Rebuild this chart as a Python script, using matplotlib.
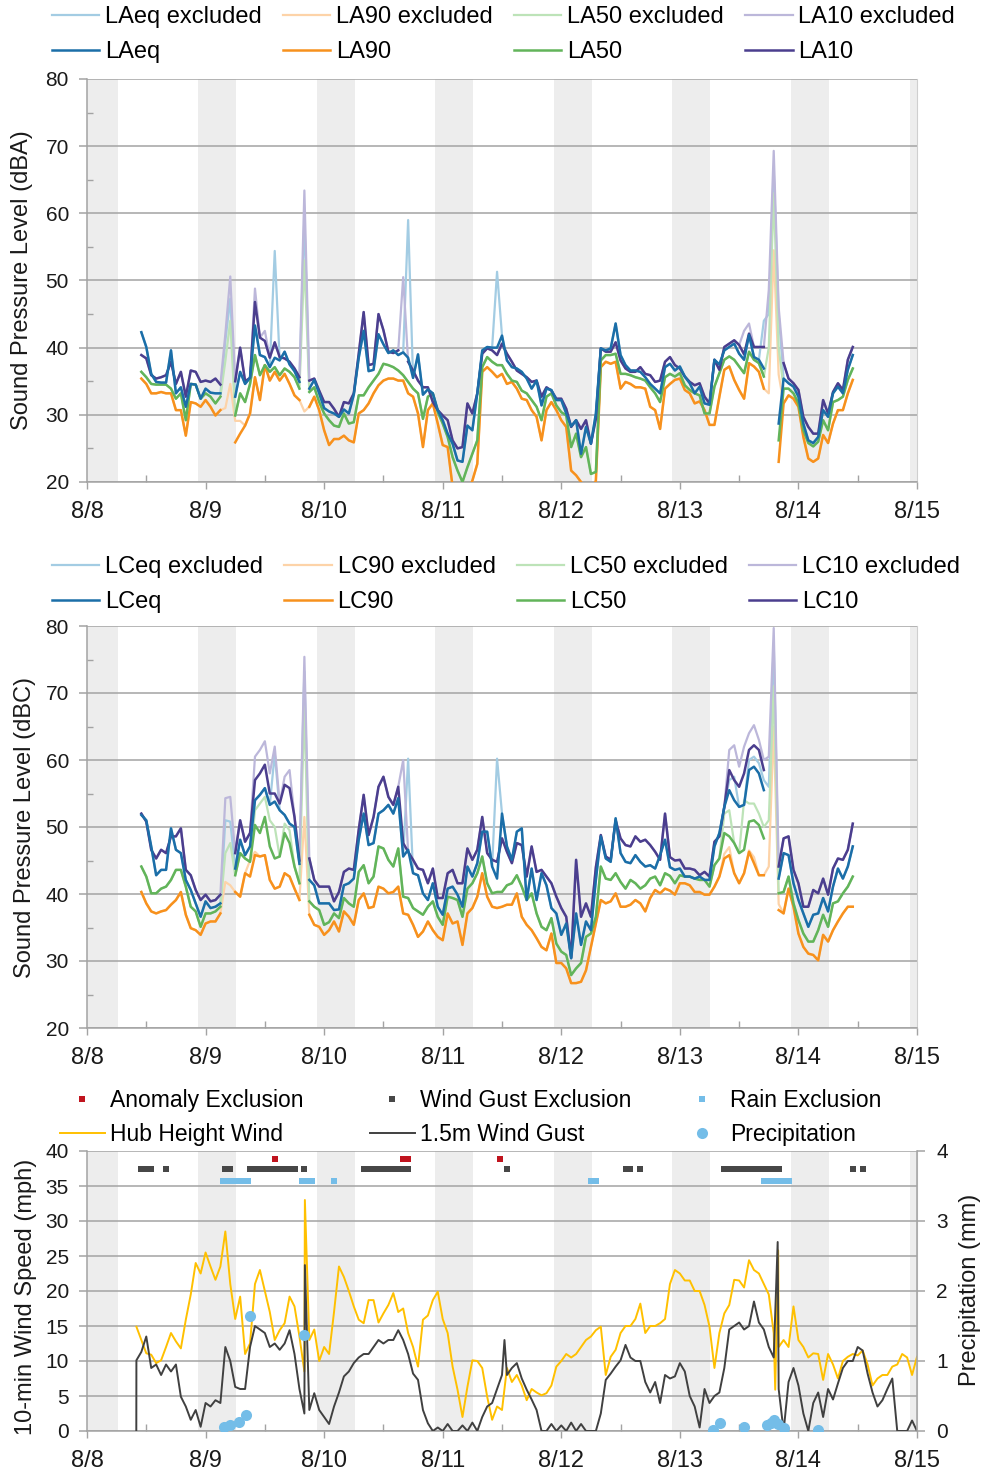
import numpy as np
import matplotlib
matplotlib.use("Agg")
import matplotlib.pyplot as plt
from matplotlib.lines import Line2D

nan = np.nan
plt.rcParams['font.family'] = ['Liberation Sans', 'DejaVu Sans']

# ---------------- data ----------------
day_labels = ['8/8', '8/9', '8/10', '8/11', '8/12', '8/13', '8/14', '8/15']
night_start_hour = 22.5   # grey night bands (hour of day)
night_end_hour = 6.2

sound_hours = np.arange(11, 156)   # hours since 8/8 00:00, hourly

LAeq = [42.3, 40.1, 36.1, 34.9, 34.8, 34.8, 39.6, 33.2, 34.1, 31.2, 34.6, 34.5,
        32.4, 33.9, 33.3, 33.2, 33.2, nan, nan, 32.7, 36.4, 34.6, 35.5, 43.3,
        38.9, 38.6, 37.1, 38.5, 38.1, 39.4, 37.5, 36.5, 34.9, nan, 33.9, 35.2,
        33.2, 31.0, 30.5, 30.2, 29.7, 30.8, 30.2, 33.0, 38.5, 42.5, 36.5, 36.7,
        42.0, 40.5, 39.2, 39.6, 38.9, 39.3, 38.5, 35.5, 39.0, 33.0, 33.8, 33.2,
        30.7, 29.2, 27.2, 25.7, 23.2, 23.0, 28.4, 27.7, 33.2, 39.6, 40.1, 40.0,
        40.0, 41.8, 38.1, 37.1, 36.9, 36.4, 35.4, 33.9, 35.1, 31.4, 33.9, 33.7,
        32.2, 32.2, 30.2, 28.3, 29.2, 24.2, 28.2, 25.7, 30.2, 39.9, 39.6, 39.9,
        43.6, 38.9, 37.4, 36.6, 36.6, 36.4, 35.6, 34.6, 33.9, 33.2, 37.1, 37.6,
        36.6, 37.2, 35.7, 34.7, 33.2, 34.2, 31.7, 31.5, 38.2, 37.5, 39.6, 40.1,
        40.6, 39.1, 38.2, 41.9, 38.6, 38.2, 36.9, nan, nan, 28.7, 35.4, 34.7,
        34.2, 32.7, 28.7, 26.2, 25.8, 26.7, 30.7, 29.7, 33.2, 34.2, 33.2, 36.7, 38.9]
LA10 = [38.9, 38.4, 35.9, 35.4, 35.6, 35.9, 37.9, 34.6, 36.4, 32.7, 36.6, 36.4,
        34.9, 35.1, 34.9, 35.4, 34.5, nan, nan, 35.0, 40.0, 35.0, 35.5, 46.8,
        41.5, 41.0, 38.5, 40.8, 38.6, 38.4, 37.9, 36.9, 35.6, nan, 35.1, 35.4,
        33.6, 31.9, 31.9, 30.9, 29.7, 31.9, 31.7, 33.2, 39.1, 45.3, 37.4, 37.6,
        45.0, 42.6, 39.4, 39.2, 39.6, nan, 37.9, 36.6, 35.1, 34.1, 34.1, 31.9,
        30.7, 29.9, 29.2, 26.2, 25.0, 25.2, 31.7, 30.2, 33.2, 39.1, 39.9, 39.6,
        38.9, 40.6, 39.1, 37.9, 36.6, 36.1, 35.6, 34.9, 35.1, 32.7, 34.1, 33.6,
        32.4, 32.4, 30.9, 28.2, 29.2, 27.9, 29.2, 25.7, 29.4, 39.9, 39.4, 39.4,
        40.8, 38.1, 36.9, 36.4, 36.4, 37.1, 36.1, 35.9, 34.9, 35.1, 37.9, 38.6,
        37.4, 36.9, 35.7, 34.9, 34.4, 34.7, 32.7, 31.7, 38.2, 36.7, 40.1, 40.6,
        41.1, 40.4, 39.0, 42.1, 40.1, 40.1, 40.1, nan, nan, nan, 37.7, 35.4,
        34.7, 33.7, 29.7, 28.2, 27.2, 27.2, 32.2, 30.2, 33.4, 34.7, 33.7, 38.2, 40.1]
LA50 = [36.4, 35.6, 34.6, 34.5, 34.5, 34.5, 33.9, 32.4, 33.2, 29.2, 34.6, 34.5,
        32.4, 33.2, 32.7, 31.7, 32.7, nan, nan, 29.9, 33.2, 31.9, 34.6, 38.9,
        35.9, 37.4, 36.4, 37.1, 35.9, 36.9, 36.4, 35.6, 33.9, nan, 33.4, 34.1,
        31.9, 30.2, 29.2, 28.4, 28.2, 30.2, 28.7, 28.9, 32.9, 32.9, 34.1, 35.1,
        36.1, 37.6, 37.4, 37.1, 36.6, 35.9, 34.9, 33.9, 33.2, 29.4, 32.7, 33.2,
        30.4, 28.7, 26.7, 23.7, 21.7, 20.0, 22.2, 24.2, 26.2, 37.1, 38.6, 37.9,
        37.4, 37.4, 36.1, 35.1, 34.9, 33.6, 33.2, 32.2, 31.2, 29.2, 32.7, 33.2,
        31.4, 30.4, 29.9, 25.2, 27.2, 23.7, 25.2, 21.2, 21.5, 38.1, 38.9, 38.9,
        39.1, 36.1, 36.1, 35.9, 35.6, 35.4, 35.1, 34.1, 33.2, 31.9, 35.6, 36.1,
        35.7, 36.2, 34.4, 33.7, 33.2, 32.9, 30.2, 30.2, 34.2, 36.2, 38.2, 38.7,
        38.2, 37.2, 36.2, 39.4, 38.2, 37.7, 35.7, nan, nan, 26.2, 33.9, 33.9,
        33.2, 31.7, 27.7, 25.8, 25.3, 26.0, 29.2, 27.7, 31.9, 32.2, 32.7, 35.2, 36.9]
LA90 = [35.4, 34.6, 33.2, 33.2, 33.4, 33.2, 33.2, 30.7, 30.7, 26.9, 31.9, 31.7,
        31.2, 32.2, 31.2, 29.9, 30.7, nan, nan, 25.9, 27.2, 28.4, 30.2, 35.6,
        32.2, 37.4, 35.1, 36.4, 35.1, 36.1, 34.6, 32.9, 32.2, nan, 31.2, 32.7,
        30.7, 27.7, 25.5, 26.4, 26.4, 26.9, 26.2, 25.9, 30.2, 30.7, 31.7, 33.2,
        34.4, 35.1, 35.4, 35.4, 35.1, 35.1, 33.2, 32.7, 30.2, 25.2, 30.7, 31.7,
        28.7, 25.5, 25.2, 19.3, 17.8, 17.5, 18.5, 20.2, 22.7, 36.4, 37.1, 36.4,
        35.6, 36.1, 34.6, 34.9, 33.9, 32.4, 32.2, 30.7, 29.7, 26.2, 30.7, 31.9,
        30.7, 29.2, 28.2, 21.7, 21.0, 20.0, 19.0, 18.5, 20.2, 37.1, 37.9, 37.6,
        37.9, 33.9, 34.9, 34.6, 34.1, 34.1, 33.9, 31.2, 30.7, 27.9, 33.9, 34.6,
        35.2, 35.4, 33.7, 33.2, 31.7, 32.0, 30.7, 28.5, 28.5, 32.7, 36.7, 37.2,
        35.2, 33.7, 32.4, 37.7, 37.2, 36.4, 33.9, nan, nan, 23.0, 31.7, 32.9,
        32.4, 31.2, 26.7, 23.5, 23.0, 23.5, 27.0, 25.8, 28.7, 30.7, 30.7, 33.2, 35.2]

# values including excluded periods (where they differ from the kept values)
LAeq_excl = {28: 41.0, 29: 47.3, 38: 54.4, 44: 59.5, 65: 59.0, 83: 51.3,
             137: 44.0, 138: 45.0, 139: 66.4, 140: 45.0}
LA10_excl = {28: 42.0, 29: 50.6, 34: 48.8, 36: 42.5, 44: 63.4, 64: 50.5,
             133: 42.5, 134: 43.6, 138: 48.6, 139: 69.3, 140: 46.0}
LA50_excl = {28: 38.0, 29: 44.0, 44: 53.0, 138: 40.0, 139: 63.0, 140: 40.0}
LA90_excl = {28: 31.0, 29: 34.6, 30: 29.1, 31: 29.1, 44: 30.5, 138: 33.2,
             139: 54.5, 140: 36.0}

LCeq = [51.8, 51.0, 47.1, 42.8, 43.6, 43.6, 49.8, 46.6, 46.1, 42.1, 40.6, 38.6,
        36.6, 38.9, 37.9, 38.1, 38.6, nan, nan, 43.8, 48.1, 45.8, 47.1, 54.0,
        54.8, 55.8, 53.3, 53.8, 52.5, 51.8, 50.5, 50.0, 44.5, nan, 42.1, 41.3,
        38.6, 38.6, 38.6, 37.6, 37.7, 41.3, 41.6, 42.3, 48.1, 52.0, 47.3, 47.6,
        52.0, 52.5, 53.3, 52.0, 54.3, 45.6, 46.6, 43.1, 42.8, 40.1, 39.1, 41.6,
        38.1, 36.9, 40.8, 41.1, 39.9, 38.1, 44.1, 42.6, 44.6, 49.3, 49.3, 44.1,
        42.3, 52.0, 47.1, 45.1, 49.3, 49.8, 39.1, 43.8, 39.1, 43.1, 41.3, 37.9,
        37.1, 33.9, 35.6, 30.4, 37.1, 32.4, 35.9, 34.6, 42.1, 48.6, 45.3, 44.8,
        51.3, 46.1, 44.8, 44.6, 45.8, 44.8, 44.1, 44.3, 43.8, 45.8, 48.1, 44.0,
        43.6, 43.8, 42.6, 42.6, 42.3, 42.6, 42.1, 42.1, 47.1, 49.1, 53.0, 55.5,
        54.0, 53.0, 53.3, 58.5, 59.0, 58.0, 55.5, nan, nan, 42.3, 46.1, 45.8,
        41.6, 39.1, 37.1, 35.1, 36.9, 37.1, 39.4, 37.4, 41.1, 43.8, 42.3, 44.1, 47.1]
LC10 = [52.0, 50.8, 46.6, 45.3, 46.6, 46.1, 48.6, 48.6, 49.8, 43.6, 42.8, 40.6,
        39.1, 39.9, 38.9, 39.1, 39.9, nan, nan, 46.1, 51.0, 47.8, 49.1, 57.0,
        58.0, 59.3, 55.0, 55.0, 53.5, 56.3, 55.8, 51.5, 45.0, nan, 45.3, 42.1,
        41.1, 41.1, 41.1, 38.9, 40.3, 43.3, 43.8, 43.6, 49.6, 54.8, 48.8, 51.5,
        56.0, 57.5, 54.5, 53.3, 56.0, 47.6, 46.3, 45.1, 43.8, 43.6, 41.6, 43.8,
        39.4, 39.4, 43.1, 43.6, 41.6, 41.6, 46.8, 45.1, 46.6, 51.5, 46.1, 45.1,
        44.8, 48.3, 46.3, 44.6, 47.6, 47.3, 42.6, 47.1, 43.3, 43.6, 42.6, 41.6,
        39.6, 37.9, 36.6, 30.5, 45.1, 36.6, 38.6, 36.6, 44.0, 48.8, 45.6, 45.1,
        51.0, 48.3, 47.3, 47.1, 48.6, 47.8, 48.1, 47.3, 46.3, 45.1, 52.0, 45.5,
        45.0, 45.1, 43.8, 43.8, 43.6, 42.8, 43.3, 42.6, 47.8, 48.6, 53.0, 58.5,
        57.0, 56.0, 58.0, 61.5, 62.2, 61.5, 58.5, nan, nan, 44.1, 48.3, 48.6,
        43.6, 41.6, 38.1, 38.1, 40.6, 40.1, 42.3, 39.9, 43.8, 45.3, 45.1, 46.6, 50.5]
LC50 = [44.1, 42.6, 40.1, 40.1, 40.8, 41.1, 42.1, 43.6, 43.6, 41.1, 38.1, 37.4,
        35.1, 37.1, 37.1, 37.4, 38.1, nan, nan, 42.8, 46.1, 45.3, 44.8, 50.3,
        49.1, 51.5, 47.1, 45.3, 45.6, 49.1, 47.6, 44.1, 41.6, nan, 38.9, 38.1,
        37.6, 35.4, 35.8, 37.1, 36.4, 39.4, 38.6, 38.1, 43.3, 44.3, 41.6, 42.6,
        47.1, 46.8, 45.1, 44.1, 46.8, 39.6, 39.4, 37.9, 37.4, 36.9, 38.1, 38.9,
        36.6, 35.4, 39.6, 39.4, 39.1, 36.6, 40.8, 41.6, 43.1, 45.6, 41.6, 40.1,
        40.3, 40.3, 41.3, 41.6, 42.8, 41.1, 39.1, 40.1, 37.1, 35.1, 34.6, 36.4,
        32.6, 31.4, 30.9, 27.9, 28.9, 29.7, 33.6, 34.1, 36.6, 44.1, 42.3, 42.1,
        43.1, 41.8, 40.8, 42.1, 41.6, 40.8, 41.3, 42.3, 42.6, 41.3, 43.1, 42.7,
        41.6, 42.8, 42.6, 42.6, 42.3, 42.1, 42.1, 41.1, 44.3, 45.3, 49.1, 48.6,
        47.6, 46.1, 46.6, 50.8, 51.0, 50.3, 48.3, nan, nan, 40.1, 40.3, 42.6,
        38.6, 36.1, 34.1, 32.9, 32.9, 34.6, 36.9, 35.1, 38.6, 38.9, 40.1, 41.1, 42.6]
LC90 = [40.3, 38.6, 37.4, 37.1, 37.4, 37.6, 38.4, 39.1, 40.3, 36.9, 34.9, 34.6,
        33.9, 35.6, 35.9, 35.9, 37.1, nan, nan, 40.3, 39.6, 43.1, 42.6, 45.8,
        45.6, 45.8, 42.1, 40.8, 41.1, 43.1, 42.6, 40.8, 39.1, nan, 36.9, 35.4,
        35.1, 33.9, 34.6, 35.9, 34.4, 37.4, 36.6, 35.4, 39.1, 40.1, 37.9, 38.1,
        41.1, 40.8, 40.1, 40.3, 41.1, 37.1, 36.9, 35.4, 33.6, 34.4, 35.9, 34.6,
        33.6, 33.1, 37.1, 35.6, 35.9, 32.4, 37.1, 37.9, 39.6, 43.1, 39.6, 38.1,
        37.9, 38.1, 38.4, 38.4, 40.1, 36.6, 35.4, 34.6, 33.4, 32.1, 31.6, 34.1,
        29.7, 29.7, 28.9, 26.7, 26.7, 26.9, 28.6, 32.1, 35.6, 39.1, 38.6, 38.9,
        40.1, 38.1, 38.1, 38.4, 39.1, 38.6, 37.4, 39.4, 40.6, 40.1, 40.8, 40.5,
        39.9, 41.6, 41.6, 41.3, 40.3, 40.3, 39.9, 39.9, 41.1, 42.6, 45.3, 45.8,
        43.1, 41.6, 43.1, 46.3, 44.6, 42.8, 42.8, nan, nan, 37.6, 37.1, 40.8,
        38.1, 34.1, 32.1, 31.1, 30.9, 30.1, 33.9, 32.9, 34.6, 35.9, 37.1, 38.1, 38.1]

LCeq_excl = {28: 51.0, 29: 50.8, 38: 61.0, 44: 73.2, 65: 60.2, 83: 60.2,
             130: 57.0, 131: 57.5, 134: 60.0, 135: 60.5, 136: 59.5, 137: 57.0,
             138: 56.0, 139: 77.4}
LC10_excl = {28: 54.3, 29: 54.5, 34: 60.5, 35: 61.5, 36: 62.8, 37: 58.0, 38: 62.0,
             40: 57.5, 41: 58.5, 44: 75.4, 64: 60.0, 130: 61.5, 131: 62.2,
             132: 59.0, 133: 62.0, 134: 64.0, 135: 65.2, 136: 63.0, 137: 60.0,
             138: 60.5, 139: 79.7}
LC50_excl = {28: 46.1, 29: 47.6, 34: 52.5, 35: 53.5, 36: 54.5, 37: 51.0, 38: 50.0,
             40: 50.5, 41: 49.5, 44: 68.0, 129: 52.0, 130: 52.5, 133: 54.0,
             134: 53.5, 135: 53.5, 136: 52.0, 137: 50.0, 138: 51.0, 139: 71.0}
LC90_excl = {28: 41.8, 29: 41.3, 33: 45.0, 34: 46.3, 44: 51.5, 129: 46.0, 130: 47.0,
             134: 46.5, 135: 45.5, 138: 44.1, 139: 65.0, 140: 38.5}

# wind (hourly, hours since 8/8 00:00)
wind_hours = np.arange(10, 169)
hub_wind = [14.9, 13.0, 11.1, 10.9, 9.7, 10.1, 12.0, 14.0, 12.8, 11.8, 15.9, 19.5,
            24.0, 22.5, 25.5, 23.5, 21.6, 23.5, 28.5, 21.0, 16.0, 19.2, 11.0, 12.5,
            21.0, 23.0, 20.0, 17.0, 13.0, 14.4, 15.4, 19.2, 17.8, 13.5, 8.5, 13.0,
            14.5, 10.0, 12.0, 11.0, 17.0, 23.5, 22.0, 20.0, 17.8, 15.9, 15.4, 18.7,
            18.7, 15.5, 16.8, 18.0, 19.7, 17.0, 17.5, 14.0, 12.0, 9.2, 15.9, 16.5,
            18.7, 19.9, 16.0, 14.0, 9.2, 5.9, 2.0, 6.3, 10.1, 10.0, 9.0, 4.9,
            1.6, 3.5, 3.0, 9.0, 7.0, 8.0, 6.5, 4.4, 6.0, 5.5, 5.1, 5.4,
            6.5, 9.2, 10.0, 11.0, 10.5, 11.0, 12.0, 13.0, 13.5, 14.4, 14.9, 8.0,
            10.6, 11.6, 14.0, 15.0, 15.0, 16.0, 18.2, 14.0, 15.0, 15.0, 15.4, 16.0,
            21.0, 23.0, 22.5, 21.5, 21.5, 20.0, 20.0, 18.0, 14.9, 9.0, 14.0, 16.8,
            18.0, 21.6, 21.5, 20.5, 24.4, 23.0, 22.5, 21.0, 19.5, 14.0, 12.0, 13.0,
            12.0, 17.8, 13.0, 12.0, 10.5, 11.1, 11.0, 7.3, 11.0, 9.5, 7.5, 10.0,
            10.6, 11.0, 10.8, 11.5, 9.5, 6.5, 7.5, 8.0, 8.0, 9.2, 9.5, 11.0,
            10.5, 8.0, 10.6]
gust_wind = [10.1, 11.3, 13.5, 9.0, 9.5, 8.0, 9.5, 8.5, 9.5, 4.9, 3.5, 1.6,
             3.0, 0.6, 4.0, 3.5, 4.4, 4.0, 12.0, 10.0, 6.3, 6.0, 6.0, 12.0,
             15.0, 14.5, 14.0, 12.0, 12.5, 11.6, 12.5, 14.4, 11.0, 6.0, 2.5, 3.0,
             5.4, 3.0, 2.0, 1.0, 3.5, 5.5, 7.8, 8.5, 9.7, 10.5, 11.0, 11.0,
             12.0, 13.0, 12.5, 13.0, 13.0, 14.4, 13.0, 11.0, 8.2, 7.3, 3.0, 1.1,
             0.0, 0.5, 0.0, 1.0, 0.0, 0.0, 0.8, 0.0, 1.2, 0.0, 2.0, 3.5,
             4.0, 6.0, 8.0, 8.0, 9.0, 9.7, 7.5, 5.9, 4.5, 3.0, 0.0, 0.0,
             1.0, 0.0, 0.8, 0.0, 1.2, 0.0, 1.0, 0.0, 0.0, 0.0, 2.5, 7.3,
             8.2, 9.2, 10.1, 12.3, 10.5, 10.0, 10.0, 7.0, 5.5, 7.0, 4.0, 8.0,
             7.5, 7.8, 9.7, 8.5, 5.0, 3.5, 0.5, 6.0, 4.0, 5.0, 5.5, 9.0,
             14.5, 15.0, 15.5, 14.5, 15.0, 18.5, 15.5, 14.5, 12.0, 10.5, 6.0, 0.0,
             7.0, 9.0, 6.5, 2.5, 0.0, 4.0, 5.5, 2.0, 6.0, 4.5, 6.8, 9.0,
             10.0, 10.0, 12.0, 11.5, 8.2, 5.5, 3.5, 4.4, 6.0, 7.5, 0.0, 0.0,
             0.0, 1.5, 0.0]
# short 10-min peaks between the hourly values
hub_peak_hours = [44.1, 139.3, 139.9]
hub_peak_vals = [33.0, 5.9, 25.8]
gust_peak_hours = [9.98, 44.1, 84.5, 139.8]
gust_peak_vals = [0.0, 23.7, 13.0, 27.0]

precip_hours = [27.7, 28.9, 30.8, 32.1, 33.0, 43.9, 126.7, 128.1, 133.0,
                137.6, 138.5, 139.1, 139.8, 141.0, 148.0]
precip_mm = [0.06, 0.08, 0.13, 0.23, 1.65, 1.37, 0.01, 0.11, 0.06,
             0.08, 0.12, 0.16, 0.10, 0.05, 0.01]

anomaly_excl_hours = [38, 64, 65, 83.5]
gust_excl_hours = [11, 12, 13, 16, 28, 29, 33, 34, 35, 36, 37, 38, 39, 40, 41, 42, 44,
                   56, 57, 58, 59, 60, 61, 62, 63, 64, 65, 85, 109, 110, 112,
                   129, 130, 131, 132, 133, 134, 135, 136, 137, 138, 139, 140, 155, 157]
rain_excl_hours = [27.5, 28.5, 29.5, 30.5, 31.5, 32.5, 43.5, 44.5, 45.5, 50,
                   102, 103, 137, 138, 139, 140, 141, 142]

# ---------------- styling ----------------
C_EQ, C_90, C_50, C_10 = '#1b6ea8', '#f7911d', '#62b45a', '#4b3e8e'
X_EQ, X_90, X_50, X_10 = '#a3cce3', '#fdd3a8', '#bde3b8', '#bcb7da'
BAND = '#ededed'
GRID = '#a3a3a3'
TXT = '#1a1a1a'

W, H = 986, 1473
fig = plt.figure(figsize=(W / 100, H / 100), dpi=100)


def fx(px):
    return px / W


def fy(py):
    return 1 - py / H


def axes_rect(top, bottom):
    return [fx(87), fy(bottom), fx(917) - fx(87), (bottom - top) / H]


def style_time_axis(ax, ymin, ymax, ystep, minor_y=True):
    ax.set_xlim(0, 168)
    ax.set_ylim(ymin, ymax)
    for d in range(8):
        ax.axvspan(24 * d - 24 + night_start_hour, 24 * d + night_end_hour,
                   color=BAND, lw=0, zorder=0.2)
    ax.set_xticks(np.arange(0, 169, 24))
    ax.set_xticklabels(day_labels)
    ax.set_xticks(np.arange(12, 168, 24), minor=True)
    ax.set_yticks(np.arange(ymin, ymax + 0.01, ystep))
    if minor_y:
        ax.set_yticks(np.arange(ymin + ystep / 2, ymax, ystep), minor=True)
    ax.grid(axis='y', color=GRID, lw=1.1)
    ax.set_axisbelow(True)
    ax.tick_params(axis='x', which='major', direction='out', length=5, width=1,
                   color=GRID, labelsize=17, pad=9, labelcolor=TXT)
    ax.tick_params(axis='x', which='minor', direction='in', length=5, width=1, color=GRID)
    ax.tick_params(axis='y', which='major', direction='out', length=6, width=1.1,
                   color=GRID, labelsize=15, pad=7, labelcolor=TXT)
    ax.tick_params(axis='y', which='minor', direction='in', length=4, width=1, color=GRID)
    for s in ['left', 'bottom']:
        ax.spines[s].set_color(GRID)
        ax.spines[s].set_linewidth(1.1)
    ax.spines['top'].set_visible(False)
    ax.spines['right'].set_color('#cfcfcf')


def with_excl(base, extra):
    arr = np.array(base, dtype=float)
    for h, v in extra.items():
        arr[h - sound_hours[0]] = v
    return arr


def sound_panel(ax, names, series, excl, main_cols, excl_cols):
    handles = []
    ex_lines, main_lines = [], []
    for nm, s, e, cm, cx in zip(names, series, excl, main_cols, excl_cols):
        lx, = ax.plot(sound_hours, with_excl(s, e), color=cx, lw=1.6,
                      label=nm + ' excluded', zorder=2)
        ex_lines.append(lx)
    # draw order of kept data: L90, L50, L10, Leq on top
    for idx in [1, 2, 3, 0]:
        lm, = ax.plot(sound_hours, np.array(series[idx], dtype=float), color=main_cols[idx],
                      lw=1.8, label=names[idx], zorder=3)
        main_lines.append((idx, lm))
    main_sorted = [l for _, l in sorted(main_lines, key=lambda t: t[0])]
    for lx, lm in zip(ex_lines, main_sorted):
        handles += [lx, lm]
    return handles


LEG_KW = dict(frameon=False, fontsize=17, handlelength=2.0, handletextpad=0.25,
              columnspacing=0.9, labelspacing=0.55, borderpad=0, borderaxespad=0)

# ---- top panel (dBA)
ax1 = fig.add_axes(axes_rect(79, 482))
style_time_axis(ax1, 20, 80, 10)
h1 = sound_panel(ax1, ['LAeq', 'LA90', 'LA50', 'LA10'],
                 [LAeq, LA90, LA50, LA10],
                 [LAeq_excl, LA90_excl, LA50_excl, LA10_excl],
                 [C_EQ, C_90, C_50, C_10], [X_EQ, X_90, X_50, X_10])
fig.legend(handles=h1, labels=[h.get_label() for h in h1], ncol=4,
           loc='upper left', bbox_to_anchor=(fx(52), fy(6)), **LEG_KW)
fig.text(fx(22), fy(280), 'Sound Pressure Level (dBA)', rotation=90, ha='center',
         va='center', fontsize=17, color=TXT)

# ---- middle panel (dBC)
ax2 = fig.add_axes(axes_rect(626, 1028))
style_time_axis(ax2, 20, 80, 10)
h2 = sound_panel(ax2, ['LCeq', 'LC90', 'LC50', 'LC10'],
                 [LCeq, LC90, LC50, LC10],
                 [LCeq_excl, LC90_excl, LC50_excl, LC10_excl],
                 [C_EQ, C_90, C_50, C_10], [X_EQ, X_90, X_50, X_10])
fig.legend(handles=h2, labels=[h.get_label() for h in h2], ncol=4,
           loc='upper left', bbox_to_anchor=(fx(52), fy(556)), **LEG_KW)
fig.text(fx(25), fy(827), 'Sound Pressure Level (dBC)', rotation=90, ha='center',
         va='center', fontsize=17, color=TXT)

# ---- bottom panel (wind)
ax3 = fig.add_axes(axes_rect(1151, 1431))
style_time_axis(ax3, 0, 40, 5, minor_y=False)


def merged(hours, vals, ph, pv):
    h = np.concatenate([np.asarray(hours, float), np.asarray(ph, float)])
    v = np.concatenate([np.asarray(vals, float), np.asarray(pv, float)])
    o = np.argsort(h, kind='stable')
    return h[o], v[o]


hh, hv = merged(wind_hours, hub_wind, hub_peak_hours, hub_peak_vals)
gh, gv = merged(wind_hours, gust_wind, gust_peak_hours, gust_peak_vals)
l_hub, = ax3.plot(hh, hv, color='#ffc000', lw=1.4, zorder=2, label='Hub Height Wind')
l_gust, = ax3.plot(gh, gv, color='#404040', lw=1.4, zorder=3, label='1.5m Wind Gust')

ANOM_C, GEX_C, RAIN_C = '#c0141e', '#474747', '#74bde8'
m_an, = ax3.plot(anomaly_excl_hours, np.full(len(anomaly_excl_hours), 38.9), 's',
                 color=ANOM_C, ms=4.6, mew=0, zorder=4, label='Anomaly Exclusion')
m_ge, = ax3.plot(gust_excl_hours, np.full(len(gust_excl_hours), 37.4), 's',
                 color=GEX_C, ms=4.6, mew=0, zorder=4, label='Wind Gust Exclusion')
m_rn, = ax3.plot(rain_excl_hours, np.full(len(rain_excl_hours), 35.7), 's',
                 color=RAIN_C, ms=4.6, mew=0, zorder=4, label='Rain Exclusion')

ax3r = ax3.twinx()
ax3r.set_ylim(0, 4)
ax3r.set_yticks([0, 1, 2, 3, 4])
ax3r.tick_params(axis='y', direction='out', length=6, width=1.1, color=GRID,
                 labelsize=15, pad=8, labelcolor=TXT)
for s in ['left', 'top', 'bottom']:
    ax3r.spines[s].set_visible(False)
ax3r.spines['right'].set_color(GRID)
ax3r.spines['right'].set_linewidth(1.1)
m_pr, = ax3r.plot(precip_hours, precip_mm, 'o', color=RAIN_C, ms=8, mew=0,
                  zorder=5, label='Precipitation')

leg_cols = [([m_an, l_hub], 60), ([m_ge, l_gust], 370), ([m_rn, m_pr], 680)]
for hs, xpx in leg_cols:
    fig.legend(handles=hs, labels=[h.get_label() for h in hs], ncol=1,
               loc='upper left', bbox_to_anchor=(fx(xpx), fy(1089)), frameon=False,
               fontsize=16.5, handlelength=1.95, handletextpad=0.25,
               labelspacing=0.5, borderpad=0, borderaxespad=0)

fig.text(fx(26), fy(1297), '10-min Wind Speed (mph)', rotation=90, ha='center',
         va='center', fontsize=17, color=TXT)
fig.text(fx(970), fy(1290), 'Precipitation (mm)', rotation=90, ha='center',
         va='center', fontsize=17, color=TXT)

fig.savefig('out.png', dpi=100)
